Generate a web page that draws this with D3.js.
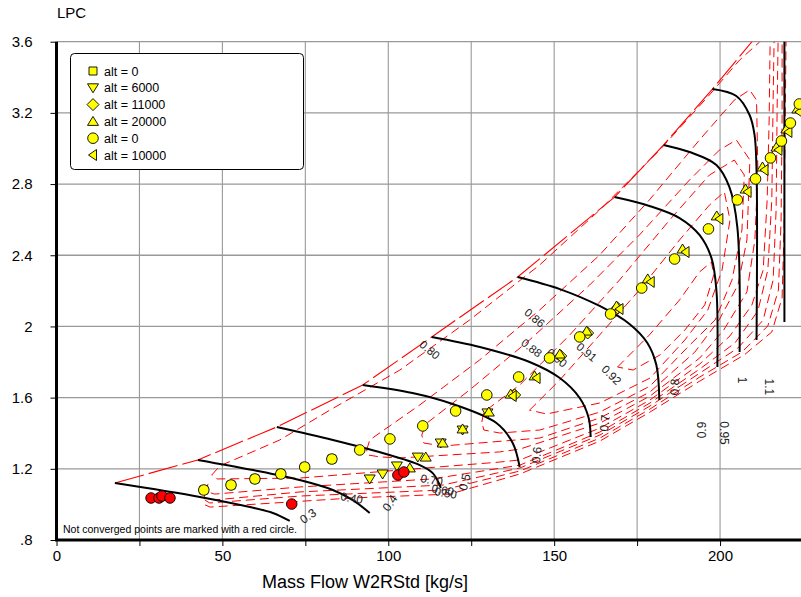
<!DOCTYPE html>
<html>
<head>
<meta charset="utf-8">
<script src="https://cdn.jsdelivr.net/npm/d3@7"></script>
<style>
  body { margin: 0; background: #fff; }
  text { font-family: Arial, "Liberation Sans", sans-serif; }
</style>
</head>
<body>
<div id="chart"></div>
<script>
// ticks
var xTicks = [0, 25, 50, 75, 100, 125, 150, 175, 200];
var yTicks = [0.8, 1.2, 1.6, 2, 2.4, 2.8, 3.2, 3.6];

// surge line (flow, pressure ratio)
var surgeLine = [[17.6,1.120],[42.6,1.250],[66.4,1.435],[92.3,1.671],[113.1,1.941],[139.0,2.278],
  [168.2,2.727],[183.0,3.020],[197.7,3.334],[209.8,3.604],[211.0,3.627]];

// corrected speed lines
var speedNames = ['0.3','0.4','0.5','0.6','0.7','0.8','0.9','0.95','1','1.1'];
var speedCurves = [
  [[17.6,1.120],[43.2,1.042],[58.3,0.985],[65.2,0.952],[70.3,0.907]],
  [[42.6,1.250],[59.2,1.193],[73.3,1.137],[83.3,1.081],[89.2,1.025],[94.4,0.952]],
  [[66.4,1.435],[83.3,1.362],[98.3,1.289],[109.5,1.221],[113.4,1.176],[115.5,1.109],[115.8,1.092]],
  [[92.3,1.671],[107.3,1.626],[119.4,1.564],[132.6,1.457],[137.5,1.345],[139.6,1.210]],
  [[113.1,1.941],[127.6,1.885],[142.6,1.800],[151.7,1.710],[157.7,1.598],[160.4,1.486],[161.0,1.379]],
  [[139.0,2.278],[151.7,2.210],[163.7,2.115],[172.7,2.014],[178.1,1.907],[180.8,1.783],[181.7,1.587]],
  [[168.2,2.727],[178.7,2.677],[187.8,2.609],[193.8,2.514],[197.4,2.385],[198.9,2.205],[199.2,1.772]],
  [[183.0,3.020],[190.8,2.980],[198.9,2.907],[202.8,2.784],[205.2,2.559],[205.9,1.856]],
  [[197.7,3.334],[204.9,3.295],[208.9,3.188],[210.4,3.076],[211.0,2.873],[211.0,1.924]],
  [[219.4,3.65],[219.4,2.025]]
];
var speedLabelAt = [[75.8,0.935],[100.5,1.008],[123.0,1.126],[144.7,1.278],[165.2,1.457],
  [186.3,1.660],[194.4,1.418],[201.3,1.401],[206.7,1.699],[214.9,1.660]];

// efficiency contours
var effNames = ['0.40','0.50','0.60','0.70','0.80','0.86','0.88','0.90','0.91','0.92'];
var effCurves = [
  [[44.8,0.997],[46.3,0.985],[89.1,1.036],[118.6,1.058],[139.7,1.171],[163.8,1.356],[178.9,1.519],[193.9,1.693],
   [207.3,1.840],[215.6,1.969],[218.7,2.160],[219.3,2.542],[219.6,3.104],[219.9,3.610]],
  [[44.7,1.025],[46.2,1.008],[73.4,1.047],[116.5,1.081],[139.7,1.188],[163.8,1.373],[178.9,1.536],[193.9,1.716],
   [206.6,1.856],[214.4,2.003],[217.6,2.205],[218.4,2.598],[218.7,3.160],[218.7,3.610]],
  [[45.0,1.070],[44.4,1.036],[47.7,1.025],[73.4,1.070],[116.5,1.109],[139.7,1.205],[163.8,1.390],[178.9,1.553],
   [193.9,1.738],[205.4,1.879],[213.0,2.036],[216.0,2.261],[216.9,2.654],[217.2,3.216],[217.5,3.610]],
  [[45.7,1.115],[44.7,1.075],[47.7,1.058],[73.4,1.098],[113.2,1.143],[139.7,1.221],[163.8,1.407],[178.9,1.570],
   [193.9,1.761],[204.5,1.907],[211.4,2.087],[214.4,2.317],[215.6,2.711],[216.0,3.272],[216.3,3.610]],
  [[46.8,1.165],[49.2,1.216],[67.3,1.362],[82.4,1.530],[103.5,1.755],[124.5,2.036],[145.6,2.345],[163.7,2.654],
   [181.8,2.991],[196.8,3.301],[205.9,3.497],[211.9,3.598],[214.0,3.64],[215.1,3.61],[214.8,3.160],[214.2,2.711],
   [213.0,2.317],[209.6,2.121],[203.0,1.947],[193.9,1.789],[178.9,1.587],[163.8,1.429],[139.7,1.250],[133.6,1.238],
   [103.5,1.193],[73.3,1.148],[48.4,1.143],[46.8,1.165]],
  [[93.5,1.306],[94.4,1.362],[109.5,1.559],[127.5,1.811],[145.6,2.092],[163.7,2.401],[178.7,2.711],[193.8,3.048],
   [204.3,3.272],[208.9,3.329],[211.0,3.272],[211.4,2.879],[210.5,2.486],[208.1,2.194],[201.1,1.980],[193.9,1.823],
   [178.9,1.609],[163.8,1.457],[139.7,1.311],[133.6,1.295],[103.5,1.261],[97.4,1.267],[93.8,1.278],[93.5,1.306]],
  [[110.1,1.390],[111.3,1.452],[124.5,1.643],[142.6,1.924],[160.7,2.233],[175.7,2.514],[190.8,2.823],[199.8,2.991],
   [204.9,3.048],[209.0,2.935],[208.1,2.486],[205.4,2.233],[199.7,2.036],[192.4,1.856],[178.9,1.632],[163.8,1.486],
   [145.7,1.373],[116.4,1.328],[110.7,1.345],[110.1,1.390]],
  [[128.2,1.463],[128.8,1.519],[139.6,1.671],[154.7,1.952],[169.7,2.261],[184.8,2.598],[196.8,2.851],[204.3,2.935],
   [207.3,2.851],[206.6,2.542],[203.6,2.261],[198.5,2.036],[190.9,1.896],[178.9,1.665],[163.8,1.519],[145.7,1.418],
   [133.6,1.401],[128.8,1.418],[128.2,1.463]],
  [[142.6,1.530],[151.7,1.699],[163.7,1.952],[175.7,2.205],[187.8,2.486],[196.8,2.682],[201.3,2.756],[203.0,2.598],
   [200.6,2.317],[196.3,2.092],[189.4,1.924],[178.9,1.710],[163.8,1.570],[147.7,1.508],[142.6,1.530]],
  [[169.1,1.772],[178.7,1.952],[187.8,2.149],[193.8,2.306],[197.4,2.362],[198.1,2.289],[195.4,2.121],[189.4,1.980],
   [181.9,1.840],[173.8,1.755],[169.1,1.772]]
];
var effLabelAt = [[89.0,1.036],[117.3,1.064],[116.4,1.081],[113.1,1.137],[112.5,1.868],[144.1,2.048],
  [143.2,1.879],[150.8,1.823],[159.8,1.856],[167.3,1.727]];

// operating points per altitude
var alt0Circle = [[44.4,1.081],[52.6,1.109],[59.8,1.143],[67.6,1.171],[74.8,1.210],[83.0,1.255],[91.4,1.306],
  [100.5,1.368],[110.4,1.441],[120.3,1.525],[129.7,1.615],[139.3,1.716],[148.6,1.823],[157.7,1.941],[167.0,2.070],
  [176.4,2.216],[186.3,2.379],[196.5,2.548],[205.2,2.711],[210.7,2.829],[215.2,2.947],[218.5,3.042],[221.2,3.143],[223.9,3.250]];
var alt0Square = [[44.4,1.081],[52.6,1.109],[59.8,1.143],[67.6,1.171],[74.8,1.210],[83.0,1.255]];
var alt6000 = [[94.4,1.143],[98.3,1.171],[102.6,1.216],[108.9,1.266],[115.8,1.345],[122.4,1.418],[129.9,1.514]];
var alt11000 = [[138.1,1.615],[152.0,1.834],[160.1,1.963],[169.1,2.104]];
var alt20000 = [[106.5,1.205],[111.3,1.266],[116.4,1.345],[122.4,1.424],[130.3,1.519],[136.9,1.620],[144.1,1.722],
  [151.7,1.845],[159.8,1.974],[168.8,2.115],[178.2,2.267],[188.7,2.435],[199.0,2.621],[207.7,2.772],[212.8,2.896],
  [217.0,3.008],[220.0,3.110],[223.3,3.222]];
var alt10000 = [[137.5,1.609],[144.7,1.710],[169.7,2.098],[179.1,2.250],[189.6,2.418],[199.8,2.604],[208.3,2.756],
  [213.4,2.879],[217.6,2.992],[220.6,3.093],[223.9,3.205]];
var notConverged = [[28.5,1.036],[30.9,1.036],[31.8,1.047],[34.2,1.036],[70.9,1.002],[102.9,1.165],[104.7,1.182]];

var legendNames = ['alt = 0','alt = 6000','alt = 11000','alt = 20000','alt = 0','alt = 10000'];
var legendShapes = ['square','down','diamond','up','circle','left'];

var W = 801, H = 597;
var x = d3.scaleLinear().domain([0, 224.4]).range([56.5, 801]);
var y = d3.scaleLinear().domain([0.8, 3.6]).range([540, 41.7]);

var svg = d3.select('#chart').append('svg')
  .attr('width', W).attr('height', H)
  .attr('viewBox', '0 0 ' + W + ' ' + H);

svg.append('clipPath').attr('id', 'plotclip')
  .append('rect').attr('x', x(0)).attr('y', y(3.6)).attr('width', W - x(0)).attr('height', y(0.8) - y(3.6));

// grid
svg.append('g').selectAll('line')
  .data(xTicks.filter(function(d) { return d > 0; }))
  .enter().append('line')
    .attr('x1', function(d) { return x(d); }).attr('x2', function(d) { return x(d); })
    .attr('y1', y(3.6)).attr('y2', y(0.8))
    .attr('stroke', '#999').attr('stroke-width', 1.1);
svg.append('g').selectAll('line')
  .data(yTicks.filter(function(d) { return d > 0.8; }))
  .enter().append('line')
    .attr('x1', x(0)).attr('x2', W)
    .attr('y1', function(d) { return y(d); }).attr('y2', function(d) { return y(d); })
    .attr('stroke', '#999').attr('stroke-width', 1.3);

var plot = svg.append('g').attr('clip-path', 'url(#plotclip)');
var line = d3.line().x(function(d) { return x(d[0]); }).y(function(d) { return y(d[1]); });
var smooth = d3.line().curve(d3.curveCatmullRom.alpha(0.5))
  .x(function(d) { return x(d[0]); }).y(function(d) { return y(d[1]); });

// efficiency islands
plot.selectAll('path.eff')
  .data(effCurves)
  .enter().append('path')
    .attr('class', 'eff')
    .attr('d', line)
    .attr('fill', 'none')
    .attr('stroke', '#ff0000')
    .attr('stroke-width', 1)
    .attr('stroke-dasharray', '9,5');

// surge line
plot.append('path')
  .attr('d', line(surgeLine))
  .attr('fill', 'none')
  .attr('stroke', '#ff0000')
  .attr('stroke-width', 1.1)
  .attr('stroke-dasharray', '30,5');

// speed lines
plot.selectAll('path.speed')
  .data(speedCurves)
  .enter().append('path')
    .attr('class', 'speed')
    .attr('d', smooth)
    .attr('fill', 'none')
    .attr('stroke', '#000')
    .attr('stroke-width', 2);

var speedRot = [-35, -55, -75, -85, -85, -88, -90, 90, 90, 90];
plot.selectAll('text.speedlab')
  .data(speedNames)
  .enter().append('text')
    .attr('class', 'speedlab')
    .attr('transform', function(d, i) {
      return 'translate(' + x(speedLabelAt[i][0]) + ',' + y(speedLabelAt[i][1]) + ') rotate(' + speedRot[i] + ')';
    })
    .attr('text-anchor', 'middle').attr('dy', '0.35em')
    .attr('font-size', 12).attr('fill', '#222')
    .text(function(d) { return d; });

var effRot = [10, 10, 10, 10, 40, 40, 38, 40, 40, 45];
plot.selectAll('text.efflab')
  .data(effNames)
  .enter().append('text')
    .attr('class', 'efflab')
    .attr('transform', function(d, i) {
      return 'translate(' + x(effLabelAt[i][0]) + ',' + y(effLabelAt[i][1]) + ') rotate(' + effRot[i] + ')';
    })
    .attr('text-anchor', 'middle').attr('dy', '0.35em')
    .attr('font-size', 11.5).attr('fill', '#222')
    .text(function(d) { return d; });

// marker shapes
function shape(s) {
  switch (s) {
    case 'square': return 'M-4,-4h8v8h-8z';
    case 'down': return 'M-5.5,-4L5.5,-4L0,5Z';
    case 'up': return 'M-5.5,4L5.5,4L0,-5Z';
    case 'left': return 'M3.5,-5.5L3.5,5.5L-4.5,0Z';
    case 'diamond': return 'M0,-6L6,0L0,6L-6,0Z';
    default: return 'M5.3,0A5.3,5.3 0 1,1 -5.3,0A5.3,5.3 0 1,1 5.3,0Z';
  }
}
function drawSeries(data, s, fill) {
  plot.append('g').selectAll('path')
    .data(data)
    .enter().append('path')
      .attr('transform', function(d) { return 'translate(' + x(d[0]) + ',' + y(d[1]) + ')'; })
      .attr('d', shape(s))
      .attr('fill', fill)
      .attr('stroke', '#000')
      .attr('stroke-width', 0.9);
}
drawSeries(alt0Square, 'square', '#ffff00');
drawSeries(alt6000, 'down', '#ffff00');
drawSeries(alt11000, 'diamond', '#ffff00');
drawSeries(alt20000, 'up', '#ffff00');
drawSeries(alt10000, 'left', '#ffff00');
drawSeries(alt0Circle, 'circle', '#ffff00');
drawSeries(notConverged, 'circle', '#ff0000');

// axes
var fontAxis = 'Arial, "Liberation Sans", sans-serif';
var gx = svg.append('g').attr('transform', 'translate(0,' + y(0.8) + ')')
  .call(d3.axisBottom(x).tickValues(xTicks).tickSize(6).tickPadding(4)
    .tickFormat(function(d) { return d % 50 === 0 ? d : ''; }));
gx.select('.domain').remove();
gx.attr('font-size', 15).attr('font-family', fontAxis);
gx.selectAll('text').attr('fill', '#000');

var gy = svg.append('g').attr('transform', 'translate(' + x(0) + ',0)')
  .call(d3.axisLeft(y).tickValues(yTicks).tickSize(6).tickPadding(18)
    .tickFormat(function(d) { return d === 0.8 ? '.8' : String(d); }));
gy.select('.domain').remove();
gy.attr('font-size', 15).attr('font-family', fontAxis);
gy.selectAll('text').attr('fill', '#000');

svg.append('line').attr('x1', x(0) - 1.5).attr('x2', W).attr('y1', y(0.8)).attr('y2', y(0.8))
  .attr('stroke', '#000').attr('stroke-width', 3);
svg.append('line').attr('x1', x(0)).attr('x2', x(0)).attr('y1', y(3.6)).attr('y2', y(0.8))
  .attr('stroke', '#000').attr('stroke-width', 3);

svg.append('text').attr('x', 57).attr('y', 18).attr('font-size', 15).text('LPC');
svg.append('text').attr('x', 365).attr('y', 588).attr('text-anchor', 'middle')
  .attr('font-size', 18).text('Mass Flow W2RStd [kg/s]');
svg.append('text').attr('x', 63).attr('y', 533).attr('font-size', 10.5)
  .text('Not converged points are marked with a red circle.');

// legend
var legend = svg.append('g');
legend.append('rect')
  .attr('x', 70.5).attr('y', 53.5).attr('width', 233).attr('height', 116).attr('rx', 4)
  .attr('fill', '#fff').attr('stroke', '#000').attr('stroke-width', 1);
var items = legend.selectAll('g.item')
  .data(legendNames)
  .enter().append('g')
    .attr('class', 'item')
    .attr('transform', function(d, i) { return 'translate(93,' + (71 + i * 16.8) + ')'; });
items.append('path')
  .attr('d', function(d, i) { return shape(legendShapes[i]); })
  .attr('fill', '#ffff00').attr('stroke', '#000').attr('stroke-width', 0.9);
items.append('text')
  .attr('x', 11).attr('dy', '0.36em')
  .attr('font-size', 12.5)
  .text(function(d) { return d; });
</script>
</body>
</html>
